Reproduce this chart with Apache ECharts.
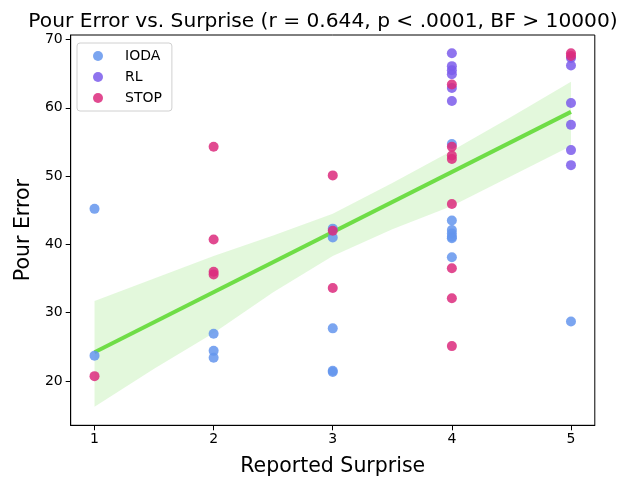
<!DOCTYPE html>
<html>
<head>
<meta charset="utf-8">
<script src="https://cdn.jsdelivr.net/npm/echarts@6/dist/echarts.min.js"></script>
<style>
  html, body { margin: 0; padding: 0; background: #fff; }
  #chart { width: 634px; height: 481px; }
</style>
</head>
<body>
<div id="chart"></div>
<script>
// Reported surprise (x) vs. pour error (y), one list per condition
const iodaPoints = [
  [1, 45.2], [1, 23.7],
  [2, 26.9], [2, 24.4], [2, 23.4],
  [3, 42.3], [3, 41.0], [3, 27.7], [3, 21.5], [3, 21.3],
  [4, 54.7], [4, 43.5], [4, 42.1], [4, 41.6], [4, 41.1], [4, 40.9], [4, 38.1],
  [5, 28.7]
];
const rlPoints = [
  [4, 68.0], [4, 66.1], [4, 65.5], [4, 64.9], [4, 62.9], [4, 61.0],
  [5, 67.3], [5, 66.2], [5, 60.7], [5, 57.5], [5, 53.8], [5, 51.6]
];
const stopPoints = [
  [1, 20.7],
  [2, 54.3], [2, 40.7], [2, 36.0], [2, 35.6],
  [3, 50.1], [3, 42.0], [3, 33.6],
  [4, 63.4], [4, 54.3], [4, 53.0], [4, 52.5], [4, 45.9], [4, 36.5], [4, 32.1], [4, 25.1],
  [5, 68.0], [5, 67.6]
];

// Fitted regression line and its confidence band
const fitX = [1, 5];
const fitY = [24.2, 59.4];
const bandX = [1, 1.5, 2, 2.5, 3, 3.5, 4, 4.5, 5];
const bandUpper = [31.7, 35.0, 38.3, 41.3, 44.5, 49.0, 53.7, 58.7, 63.8];
const bandLower = [16.2, 21.8, 27.0, 33.0, 38.3, 42.2, 45.6, 50.0, 54.4];

// Axis ticks
const xTicks = [1, 2, 3, 4, 5];
const yTicks = [20, 30, 40, 50, 60, 70];

const FONT = 'DejaVu Sans';

const chart = echarts.init(document.getElementById('chart'), null, { renderer: 'canvas' });

const bandPolygon = bandX.map((x, i) => [x, bandUpper[i]])
  .concat(bandX.map((x, i) => [x, bandLower[i]]).reverse());

const scatterBase = {
  type: 'scatter',
  symbol: 'circle',
  symbolSize: 10,
  z: 4
};

chart.setOption({
  animation: false,
  backgroundColor: '#ffffff',
  title: {
    text: 'Pour Error vs. Surprise (r = 0.644, p < .0001, BF > 10000)',
    left: 318,
    textAlign: 'center',
    top: 7,
    textStyle: { fontFamily: FONT, fontSize: 20.2, fontWeight: 'normal', color: '#000' }
  },
  legend: {
    orient: 'vertical',
    left: 77,
    top: 43,
    padding: [6, 10, 6, 16],
    itemGap: 7,
    itemWidth: 12,
    itemHeight: 10,
    borderColor: '#d0d0d0',
    borderWidth: 1,
    borderRadius: 3,
    backgroundColor: 'rgba(255,255,255,0.8)',
    textStyle: { fontFamily: FONT, fontSize: 14, color: '#000', padding: [0, 0, 0, 16] },
    data: [
      { name: 'IODA', icon: 'circle' },
      { name: 'RL', icon: 'circle' },
      { name: 'STOP', icon: 'circle' }
    ]
  },
  grid: {
    left: 70.7,
    right: 39.2,
    top: 35,
    bottom: 55.7,
    outerBoundsMode: 'none',
    containLabel: false,
    show: true,
    borderColor: '#000',
    borderWidth: 1
  },
  xAxis: {
    type: 'value',
    min: 0.8,
    max: 5.2,
    name: 'Reported Surprise',
    nameLocation: 'middle',
    nameGap: 31,
    nameTextStyle: { fontFamily: FONT, fontSize: 20.5, color: '#000' },
    axisLine: { show: true, lineStyle: { color: '#000', width: 1 } },
    axisTick: { show: true, length: 5, customValues: xTicks, lineStyle: { color: '#000' } },
    axisLabel: { customValues: xTicks, fontFamily: FONT, fontSize: 14, color: '#000', margin: 7 },
    splitLine: { show: false }
  },
  yAxis: {
    type: 'value',
    min: 13.5,
    max: 70.66,
    name: 'Pour Error',
    nameLocation: 'middle',
    nameGap: 36,
    nameTextStyle: { fontFamily: FONT, fontSize: 20.5, color: '#000' },
    axisLine: { show: true, lineStyle: { color: '#000', width: 1 } },
    axisTick: { show: true, length: 5, customValues: yTicks, lineStyle: { color: '#000' } },
    axisLabel: { customValues: yTicks, fontFamily: FONT, fontSize: 14, color: '#000', margin: 8 },
    splitLine: { show: false }
  },
  series: [
    {
      type: 'custom',
      name: 'band',
      z: 1,
      silent: true,
      data: [0],
      renderItem: function (params, api) {
        const pts = bandPolygon.map(p => api.coord(p));
        return {
          type: 'polygon',
          shape: { points: pts },
          style: { fill: 'rgba(114, 222, 78, 0.2)', stroke: 'none' }
        };
      }
    },
    {
      type: 'line',
      name: 'fit',
      z: 2,
      silent: true,
      symbol: 'none',
      data: fitX.map((x, i) => [x, fitY[i]]),
      lineStyle: { color: '#6fdd47', width: 4 }
    },
    Object.assign({}, scatterBase, {
      name: 'IODA',
      data: iodaPoints,
      itemStyle: { color: '#6495ED', opacity: 0.85 }
    }),
    Object.assign({}, scatterBase, {
      name: 'RL',
      data: rlPoints,
      itemStyle: { color: '#7B5CEB', opacity: 0.85 }
    }),
    Object.assign({}, scatterBase, {
      name: 'STOP',
      data: stopPoints,
      itemStyle: { color: '#DC2A7C', opacity: 0.85 }
    })
  ]
});
</script>
</body>
</html>
